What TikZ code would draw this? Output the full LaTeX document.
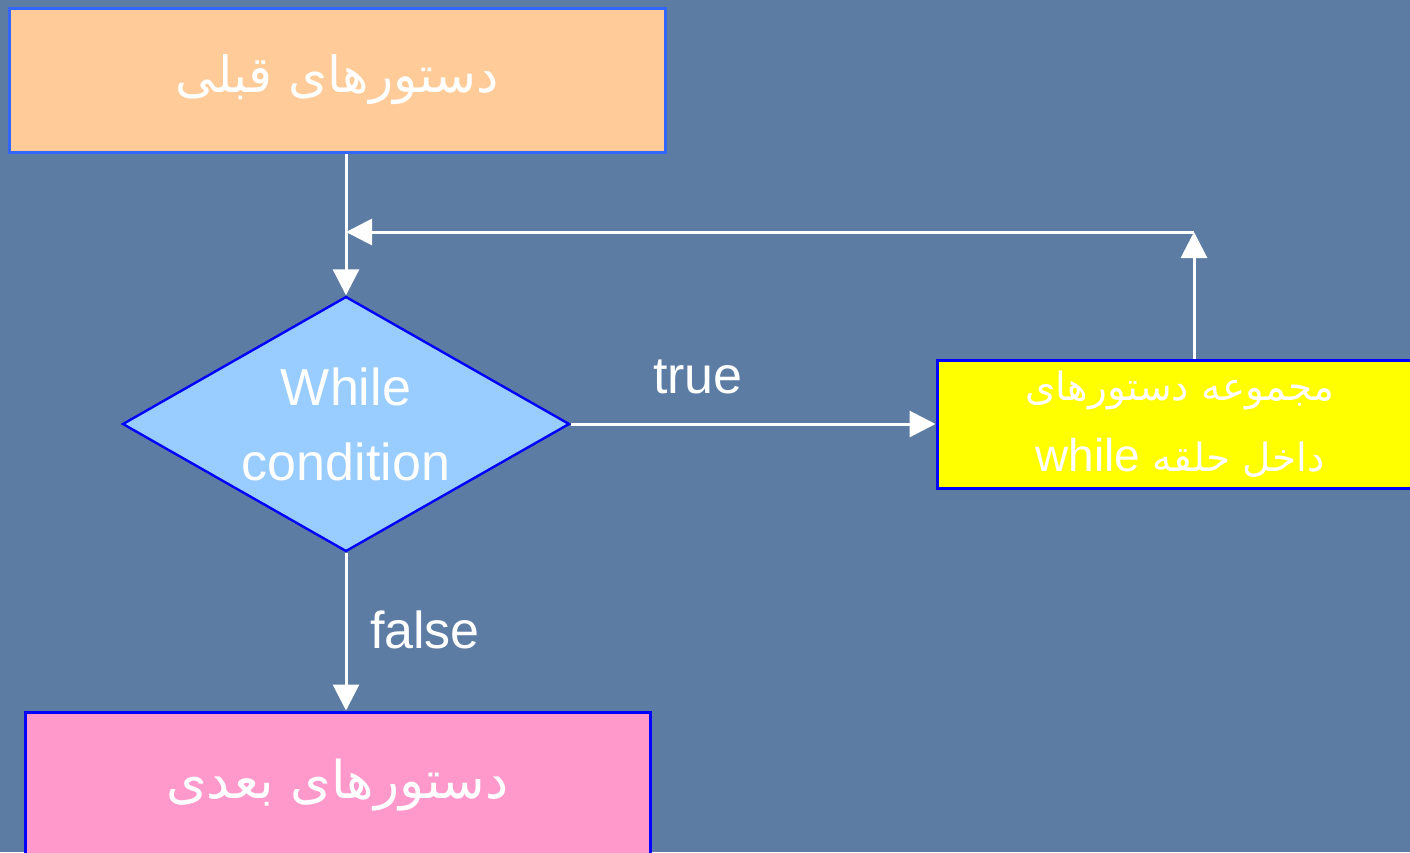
\documentclass[tikz,border=0pt]{standalone}
\usepackage{fontspec}
\setmainfont{Liberation Sans}
\newfontfamily\arabicfont[Script=Arabic]{DejaVu Sans}
\newfontfamily\latinfont{Liberation Sans}
\TeXXeTstate=1
\usetikzlibrary{arrows.meta,shapes.geometric}

\definecolor{bgblue}{RGB}{92,124,164}
\definecolor{peach}{RGB}{255,204,153}
\definecolor{edgelight}{RGB}{51,102,255}
\definecolor{edgeblue}{RGB}{0,0,255}
\definecolor{condblue}{RGB}{153,204,255}
\definecolor{bodyyellow}{RGB}{255,255,0}
\definecolor{nextpink}{RGB}{255,153,204}

\tikzset{
  stmtbox/.style={rectangle, draw=edgeblue, line width=3pt, inner sep=0pt,
    text=white, align=center},
  decision/.style={diamond, draw=edgeblue, fill=condblue, line width=2.4pt,
    inner sep=0pt, aspect=1.753, minimum width=447pt, minimum height=255pt,
    text=white, align=center, font=\fontsize{52}{75}\selectfont},
  conn/.style={draw=white, line width=3pt,
    -{Triangle[length=26pt,width=26pt]}},
  flowlabel/.style={text=white, font=\fontsize{52}{60}\selectfont, inner sep=0pt},
}

\begin{document}
\begin{tikzpicture}[x=1pt,y=-1pt]
  \useasboundingbox (0,0) rectangle (1410,852);
  \clip (0,0) rectangle (1410,852);
  \fill[bgblue] (0,0) rectangle (1410,852);

  % statements before the loop
  \node[stmtbox, draw=edgelight, fill=peach, minimum width=656pt,
        minimum height=144pt, font=\fontsize{50}{54}\selectfont]
        (prev) at (337,80) {\raisebox{-4pt}{\arabicfont\beginR دستورهای قبلی\endR}};

  % loop condition
  \node[decision] (cond) at (346,424) {While\\condition};

  % loop body
  \node[stmtbox, fill=bodyyellow, minimum width=486pt, minimum height=128pt,
        font=\fontsize{39}{71}\selectfont]
        (body) at (1180,424)
        {\arabicfont\beginR مجموعه دستورهای\endR\\
         \arabicfont\beginR داخل حلقه \beginL{\latinfont\fontsize{46}{71}\selectfont while}\endL\endR};

  % statements after the loop
  \node[stmtbox, fill=nextpink, minimum width=625pt, minimum height=146pt,
        font=\fontsize{52}{56}\selectfont]
        (next) at (337.5,785) {\raisebox{-4pt}{\arabicfont\beginR دستورهای بعدی\endR}};

  % return path of the loop
  \coordinate (corner) at (1194,232);
  \coordinate (join) at (346,232);

  \draw[conn] (prev.south -| cond.north) -- (cond.north);
  \draw[conn] (cond.east) -- (body.west);
  \draw[conn] (body.north -| corner) -- (corner);
  \draw[conn] (corner) -- (join);
  \draw[conn] (cond.south) -- (next.north -| cond.south);

  % branch labels
  \node[flowlabel, anchor=base] (truelbl) at (698,393) {true};
  \node[flowlabel, anchor=base] (falselbl) at (425,648) {false};
\end{tikzpicture}
\end{document}
